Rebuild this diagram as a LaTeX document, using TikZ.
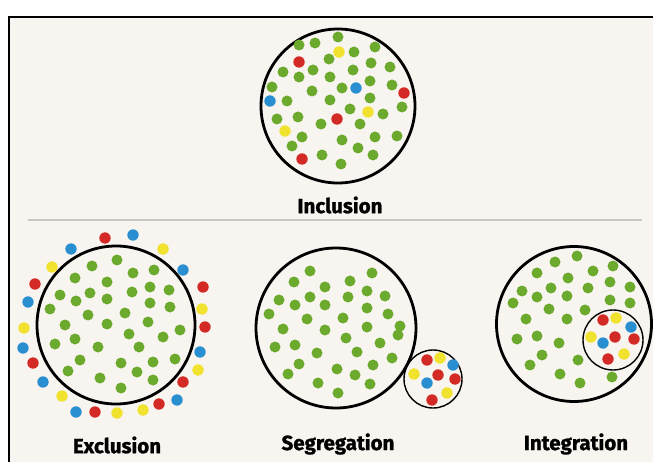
\documentclass[tikz,border=0pt]{standalone}
\usepackage{fontspec}
\setmainfont{Fira Sans}[BoldFeatures={FakeBold=1.2}]
\definecolor{bgc}{HTML}{F8F5F0}
\definecolor{gr}{HTML}{6CAA2E}
\definecolor{rd}{HTML}{D42A25}
\definecolor{bl}{HTML}{2A8FD0}
\definecolor{yl}{HTML}{F0E22E}
\tikzset{
  ring/.style={circle, draw=black, line width=2.8pt, inner sep=0pt, minimum size=#1},
  smallring/.style={circle, draw=black, line width=1.4pt, inner sep=0pt, minimum size=#1},
  lbl/.style={font=\bfseries\fontsize{20.5}{24}\selectfont, text=black, inner sep=0pt},
  gdot/.style={fill=gr},
  rdot/.style={fill=rd},
  bdot/.style={fill=bl},
  ydot/.style={fill=yl},
}
\begin{document}
\begin{tikzpicture}[x=1pt,y=-1pt]
\useasboundingbox (0,0) rectangle (653,462);
\fill[white] (0,0) rectangle (653,462);
\fill[bgc] (9,17) rectangle (653,462);
\draw[line width=2pt, black] (9,462) -- (9,17) -- (653,17);
\draw[line width=1.2pt, black!22] (28,220) -- (642,220);

% ---------- Inclusion ----------
\node[ring=154pt] (inc) at (338,106) {};
\foreach \x/\y in {338/37,299/45,315/43,354/52,375/47,329/59,371/63,283/72,313/70,353/70,390/67,299/77,330/77,370/81,272/87,312/91,342/88,392/85,287/101,330/100,370/98,402/107,350/109,383/114,277/119,298/117,321/124,360/124,302/137,342/140,375/137,397/136,292/146,358/148,322/155,373/155,341/164}
  \fill[gdot] (\x,\y) circle (5.5pt);
\foreach \x/\y in {299/62,404/93,337/119,302/159} \fill[rdot] (\x,\y) circle (5.7pt);
\foreach \x/\y in {356/88,270/101} \fill[bdot] (\x,\y) circle (5.7pt);
\foreach \x/\y in {339/52,368/112,285/131} \fill[ydot] (\x,\y) circle (5.7pt);
\node[lbl] (incl) at (340,205) {Inclusion};

% ---------- Exclusion ----------
\node[ring=158pt] (exc) at (116,325) {};
\foreach \x/\y in {117/260,92/266,133/273,154/270,75/278,107/282,150/287,169/290,60/295,76/301,90/293,107/299,132/292,150/303,170/307,50/309,88/315,125/313,65/325,107/324,148/322,180/330,129/334,163/337,75/339,55/344,98/347,139/347,175/359,80/360,121/363,153/362,68/371,137/372,100/378,153/380,121/388}
  \fill[gdot] (\x,\y) circle (5.5pt);
\foreach \x/\y in {105/238,35/284,203/287,205/327,33/363,183/382,159/404,95/412} \fill[rdot] (\x,\y) circle (5.7pt);
\foreach \x/\y in {133/235,71/249,183/270,28/302,23/348,200/352,43/382,177/400,76/412} \fill[bdot] (\x,\y) circle (5.7pt);
\foreach \x/\y in {163/249,52/267,202/309,24/328,198/370,62/396,117/413,143/410} \fill[ydot] (\x,\y) circle (5.7pt);
\node[lbl] (excl) at (117,445) {Exclusion};

% ---------- Segregation ----------
\node[ring=160pt] (seg) at (336,328) {};
\node[smallring=58pt] (segs) at (433,379) {};
\foreach \x/\y in {310/271,372/273,294/282,325/287,350/281,367/291,279/300,310/297,348/297,385/296,295/305,325/305,367/308,269/314,388/314,307/319,343/318,283/329,325/330,367/327,400/326,398/335,346/338,380/343,275/347,295/345,317/353,357/352,392/358,299/364,373/365,337/369,288/374,355/375,370/384,318/383,338/393}
  \fill[gdot] (\x,\y) circle (5.5pt);
\foreach \x/\y in {427/360,438/375,455/379,432/400} \fill[rdot] (\x,\y) circle (5.7pt);
\foreach \x/\y in {453/365,427/383} \fill[bdot] (\x,\y) circle (5.7pt);
\foreach \x/\y in {440/358,414/374,447/393} \fill[ydot] (\x,\y) circle (5.7pt);
\node[lbl] (segl) at (338,444) {Segregation};

% ---------- Integration ----------
\node[ring=155pt] (intg) at (574,324) {};
\node[smallring=60pt] (ints) at (613,340) {};
\foreach \x/\y in {577/256,555/262,613/266,537/273,568/278,593/271,522/291,551/288,588/288,610/282,630/287,537/297,567/296,610/300,630/303,513/303,549/309,585/310,526/319,567/319,537/336,517/339,559/343,542/355,578/360,530/365,560/374,612/377,580/383}
  \fill[gdot] (\x,\y) circle (5.5pt);
\foreach \x/\y in {603/320,615/337,634/339,608/359} \fill[rdot] (\x,\y) circle (5.7pt);
\foreach \x/\y in {631/327,603/343} \fill[bdot] (\x,\y) circle (5.7pt);
\foreach \x/\y in {616/318,591/337,624/354} \fill[ydot] (\x,\y) circle (5.7pt);
\node[lbl] (intl) at (576,444) {Integration};
\end{tikzpicture}
\end{document}
